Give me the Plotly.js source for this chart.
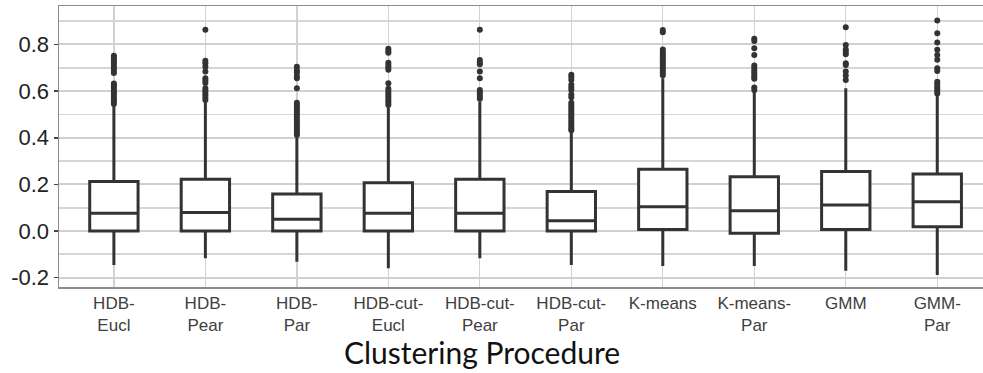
<!DOCTYPE html>
<html>
<head>
<meta charset="utf-8">
<script src="https://cdn.plot.ly/plotly-3.0.1.min.js"></script>
<style>html,body{margin:0;padding:0;background:#fff;}#chart{width:983px;height:373px;}</style>
</head>
<body>
<div id="chart"></div>
<script>
// Categories and tick labels
var categories = ["HDB-Eucl","HDB-Pear","HDB-Par","HDB-cut-Eucl","HDB-cut-Pear","HDB-cut-Par","K-means","K-means-Par","GMM","GMM-Par"];
var tickLabels = ["HDB-<br>Eucl","HDB-<br>Pear","HDB-<br>Par","HDB-cut-<br>Eucl","HDB-cut-<br>Pear","HDB-cut-<br>Par","K-means","K-means-<br>Par","GMM","GMM-<br>Par"];

// Box statistics
var lowerWhisker = [-0.146, -0.117, -0.132, -0.160, -0.117, -0.146, -0.150, -0.150, -0.170, -0.189];
var q1Values     = [0.000, 0.000, 0.000, 0.000, 0.000, 0.000, 0.007, -0.010, 0.007, 0.018];
var medianValues = [0.076, 0.080, 0.050, 0.076, 0.076, 0.044, 0.104, 0.087, 0.112, 0.126];
var q3Values     = [0.212, 0.222, 0.159, 0.207, 0.222, 0.169, 0.265, 0.233, 0.255, 0.245];
var upperWhisker = [0.535, 0.552, 0.402, 0.530, 0.555, 0.420, 0.655, 0.598, 0.612, 0.585];

// Outliers per category
var outHDBEucl = [0.545,0.555,0.565,0.575,0.585,0.595,0.605,0.615,0.625,0.633,0.678,0.688,0.698,0.708,0.718,0.728,0.738,0.746,0.752];
var outHDBPear = [0.863,0.730,0.720,0.705,0.684,0.655,0.645,0.635,0.612,0.602,0.592,0.582,0.572,0.562];
var outHDBPar = [0.705,0.690,0.680,0.665,0.655,0.612,0.550,0.540,0.530,0.520,0.510,0.500,0.490,0.480,0.470,0.460,0.450,0.440,0.430,0.420,0.412];
var outHDBcutEucl = [0.782,0.772,0.765,0.722,0.712,0.702,0.692,0.634,0.610,0.600,0.590,0.580,0.570,0.560,0.550,0.540];
var outHDBcutPear = [0.863,0.733,0.723,0.715,0.684,0.655,0.605,0.595,0.585,0.575,0.567];
var outHDBcutPar = [0.670,0.660,0.648,0.627,0.615,0.605,0.585,0.574,0.550,0.540,0.530,0.520,0.510,0.500,0.490,0.480,0.470,0.460,0.450,0.440,0.432];
var outKmeans = [0.862,0.852,0.778,0.768,0.758,0.748,0.738,0.728,0.718,0.708,0.698,0.688,0.678,0.668];
var outKmeansPar = [0.825,0.815,0.784,0.755,0.710,0.700,0.690,0.680,0.670,0.660,0.653,0.615,0.605];
var outGMM = [0.874,0.798,0.778,0.768,0.758,0.720,0.712,0.684,0.667,0.648];
var outGMMPar = [0.903,0.848,0.808,0.777,0.755,0.734,0.698,0.686,0.640,0.630,0.620,0.610,0.600,0.590];

var outlierGroups = [outHDBEucl,outHDBPear,outHDBPar,outHDBcutEucl,outHDBcutPear,outHDBcutPar,outKmeans,outKmeansPar,outGMM,outGMMPar];

var ox = [], oy = [];
outlierGroups.forEach(function(arr, i){
  arr.forEach(function(v){ ox.push(categories[i]); oy.push(v); });
});

var yTickVals = [-0.2, 0.0, 0.2, 0.4, 0.6, 0.8];
var yTickText = ["-0.2","0.0","0.2","0.4","0.6","0.8"];

var ink = "#333333";

var boxTrace = {
  type: "box",
  x: categories,
  q1: q1Values,
  median: medianValues,
  q3: q3Values,
  lowerfence: lowerWhisker,
  upperfence: upperWhisker,
  boxpoints: false,
  fillcolor: "#ffffff",
  line: {color: ink, width: 3},
  whiskerwidth: 0,
  showlegend: false,
  hoverinfo: "skip"
};

var outlierTrace = {
  type: "scatter",
  mode: "markers",
  x: ox,
  y: oy,
  marker: {color: ink, size: 6, line: {width: 0}},
  showlegend: false,
  hoverinfo: "skip"
};

var layout = {
  width: 983,
  height: 373,
  margin: {l: 59, r: 0, t: 6, b: 86, pad: 0},
  paper_bgcolor: "#ffffff",
  plot_bgcolor: "#ffffff",
  boxgap: 0.245,
  showlegend: false,
  xaxis: {
    type: "category",
    categoryorder: "array",
    categoryarray: categories,
    range: [-0.6, 9.5],
    tickvals: categories,
    ticktext: tickLabels,
    showgrid: true,
    gridcolor: "#d2d2d2",
    gridwidth: 1.3,
    showline: true,
    linecolor: "#8c8c8c",
    linewidth: 1.5,
    mirror: true,
    ticks: "",
    tickfont: {family: "Liberation Sans, Arial, sans-serif", size: 17, color: "#404040"},
    fixedrange: true
  },
  yaxis: {
    range: [-0.24, 0.965],
    tickvals: yTickVals,
    ticktext: yTickText,
    showgrid: true,
    gridcolor: "#d0d0d0",
    gridwidth: 2,
    minor: {dtick: 0.1, tick0: 0, showgrid: true, gridcolor: "#d6d6d6", gridwidth: 1.8, ticks: ""},
    zeroline: false,
    showline: true,
    linecolor: "#8c8c8c",
    linewidth: 1.5,
    mirror: false,
    ticks: "outside",
    ticklen: 4,
    tickwidth: 1.5,
    tickcolor: "#444444",
    tickfont: {family: "Liberation Sans, Arial, sans-serif", size: 22, color: "#222222"},
    fixedrange: true
  },
  annotations: [{
    text: "Clustering Procedure",
    xref: "paper", yref: "paper",
    x: 0.458, y: -0.232,
    xanchor: "center", yanchor: "middle",
    showarrow: false,
    borderpad: 0,
    font: {family: "Lato, Open Sans, sans-serif", size: 30, color: "#111111"}
  }]
};

Plotly.newPlot("chart", [boxTrace, outlierTrace], layout, {staticPlot: true, displayModeBar: false});
</script>
</body>
</html>
